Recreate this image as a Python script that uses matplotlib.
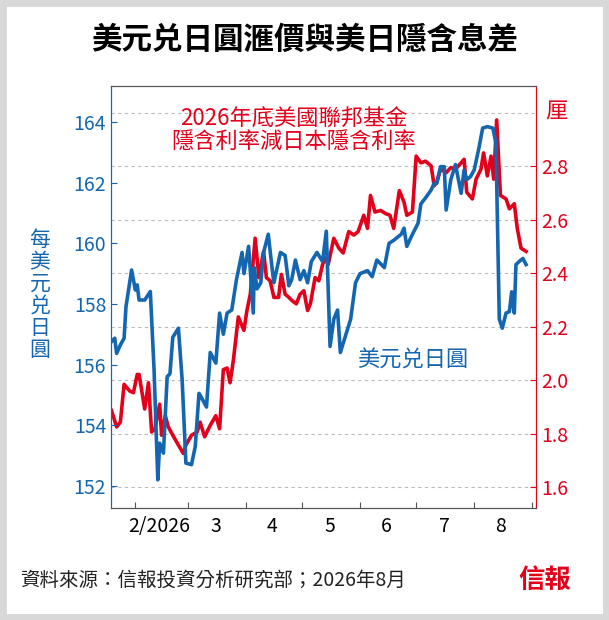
import matplotlib
matplotlib.use("Agg")
import matplotlib.pyplot as plt
from matplotlib.patches import Rectangle

plt.rcParams['font.family'] = ['Noto Sans CJK TC', 'DejaVu Sans']

blue_day = [19.3,21,22,24,26,27,30,32,33,34,37,40,42,44,45,47,49,50.5,52,55,57,59,62,64,66,67,70,72,75,77,79,81,83.5,86,89,90,92.5,95,95.5,97,99,100.5,103,105,106,109.5,112,114,115.5,117.5,120,122,124,126,129,132,134,136,138,140,141.5,144,147,149.6,152,156,158.5,161,165,167.5,170,174,175.5,177,180,183,184.5,187,190,191.6,193,195,197,198,200.5,203,206,207.6,209,211,213,215.7,217.5,220,223,224.6,226.4,228,230,231.8,233,234.4,235.3,237,239,240.7]
usdjpy = [156.76,156.87,156.37,156.65,156.87,157.91,159.12,158.46,158.63,158.13,158.13,158.41,155.83,152.2,153.41,153.08,155.6,155.7,156.9,157.2,155.5,152.75,152.7,153.3,155.05,154.95,154.6,156.4,156.05,157.7,157.0,157.7,157.8,158.8,159.7,159.0,159.9,157.7,159.2,158.5,158.7,159.7,160.3,159.2,158.7,159.7,159.6,158.6,158.8,159.45,158.8,159.1,158.7,159.4,159.7,159.4,160.4,156.6,157.5,157.8,156.4,156.9,157.5,158.7,159.0,159.1,158.9,159.45,159.2,160.0,160.1,160.3,160.5,159.9,160.3,160.66,161.3,161.5,161.76,161.98,161.98,162.53,162.53,161.1,162.1,162.6,161.65,162.42,162.1,162.2,162.42,163.2,163.8,163.85,163.8,163.3,157.5,157.2,157.7,157.75,158.4,157.7,159.3,159.4,159.5,159.3]

red_day = [19.3,22,24,26,29,31,33,34,37,39,40.7,42.5,45,46,48,49.6,52,55,57.6,59,62,65,66.6,69,72,75,77,79,81,82.6,84.4,87,90,91.6,93.4,96,98,100.5,102,104,106,108.5,110,112,114,115.7,118,120,122,124,125.5,128,130,132,133.5,135,138,140.7,143,146,148.7,151,154,156,157.6,160,163,165.7,168,170,173,175.5,177,180,182,184.5,187,190,191.6,193,195,198,200.5,203,206,207.6,209,212,214,216.6,218,220,222,223.4,225,227,230,231.8,234.4,236,238,240.7]
spread = [1.887,1.826,1.844,1.985,1.960,1.954,2.022,2.022,1.893,1.991,1.807,1.819,1.911,1.795,1.868,1.826,1.795,1.758,1.727,1.758,1.795,1.807,1.844,1.789,1.832,1.868,1.819,2.040,2.046,1.991,2.077,2.237,2.187,2.261,2.322,2.531,2.384,2.482,2.384,2.372,2.310,2.310,2.396,2.322,2.310,2.298,2.286,2.322,2.335,2.261,2.286,2.384,2.372,2.433,2.457,2.433,2.531,2.494,2.476,2.556,2.543,2.556,2.617,2.568,2.691,2.629,2.635,2.623,2.617,2.568,2.709,2.666,2.617,2.629,2.838,2.813,2.819,2.801,2.727,2.740,2.789,2.776,2.795,2.789,2.813,2.826,2.703,2.678,2.752,2.789,2.850,2.764,2.838,2.752,2.973,2.691,2.678,2.641,2.660,2.568,2.494,2.482]

month_label_pos = [45, 75, 105, 136, 166, 197, 227]
month_labels = ['2/2026', '3', '4', '5', '6', '7', '8']
month_bounds = [32, 60, 91, 121, 152, 182, 213, 244]
left_ticks = [152, 154, 156, 158, 160, 162, 164]
right_ticks = [1.6, 1.8, 2.0, 2.2, 2.4, 2.6, 2.8]
grid_levels = [1.6, 1.8, 2.0, 2.2, 2.4, 2.6, 2.8, 3.0]

BLUE = '#1466b0'
RED = '#e3001b'

fig = plt.figure(figsize=(6.09, 6.20), dpi=100)
fig.patch.set_facecolor('white')
fig.add_artist(Rectangle((3/609, 3/620), 603/609, 614/620, transform=fig.transFigure,
                         facecolor='none', edgecolor='#d8d8d8', lw=5, zorder=0))
fig.text(0.5, 1-40/620, '美元兑日圓滙價與美日隱含息差', ha='center', va='center',
         fontsize=22, fontweight='bold', color='black')

ax = fig.add_axes([111/609, 1-508/620, 425/609, 422/620])
ax2 = ax.twinx()
ax.set_xlim(19, 246)
ax.set_ylim(151.27, 165.19)
ax2.set_ylim(1.523, 3.1)

for y in grid_levels:
    ax2.axhline(y, color='#bbbbbb', ls=(0, (3, 3)), lw=0.8, zorder=0)

ax2.plot(red_day, spread, color=RED, lw=2.6, zorder=2)
ax.set_zorder(ax2.get_zorder() + 1)
ax.patch.set_visible(False)
ax.plot(blue_day, usdjpy, color=BLUE, lw=2.6, zorder=3)

ax.set_yticks(left_ticks)
ax.tick_params(axis='y', colors=BLUE, labelsize=14, direction='in', length=4)
ax2.set_yticks(right_ticks)
ax2.set_yticklabels([f'{v:.1f}' for v in right_ticks])
ax2.tick_params(axis='y', colors=RED, labelsize=14, direction='in', length=4)
ax.set_xticks(month_bounds)
ax.set_xticklabels([])
ax.tick_params(axis='x', direction='in', length=4, color='#555555')
ax.set_xticks(month_label_pos, minor=True)
ax.set_xticklabels(month_labels, minor=True)
ax.tick_params(axis='x', which='minor', length=0, labelsize=14, pad=6)

for a in (ax, ax2):
    a.spines['left'].set_color(BLUE)
    a.spines['right'].set_color(RED)
    a.spines['top'].set_color('#555555')
    a.spines['bottom'].set_color('#555555')

ax.text(0.43, 0.895, '2026年底美國聯邦基金\n隱含利率減日本隱含利率', transform=ax.transAxes,
        ha='center', va='center', color=RED, fontsize=16, linespacing=1.0)
ax.text(0.58, 0.35, '美元兑日圓', transform=ax.transAxes, ha='left', va='center',
        color=BLUE, fontsize=16)

fig.text(40/609, 1-295/620, '每\n美\n元\n兑\n日\n圓', ha='center', va='center',
         color=BLUE, fontsize=15, linespacing=1.0)
fig.text(556/609, 1-112/620, '厘', ha='center', va='center', color=RED, fontsize=16)

fig.text(20/609, 1-580/620, '資料來源：信報投資分析研究部；2026年8月', ha='left', va='center',
         fontsize=14, color='#222222')
fig.text(545/609, 1-580/620, '信報', ha='center', va='center', fontsize=19,
         fontweight='bold', color=RED, family=['Noto Sans CJK TC'])

fig.savefig('out.png', dpi=100, facecolor=fig.get_facecolor())
